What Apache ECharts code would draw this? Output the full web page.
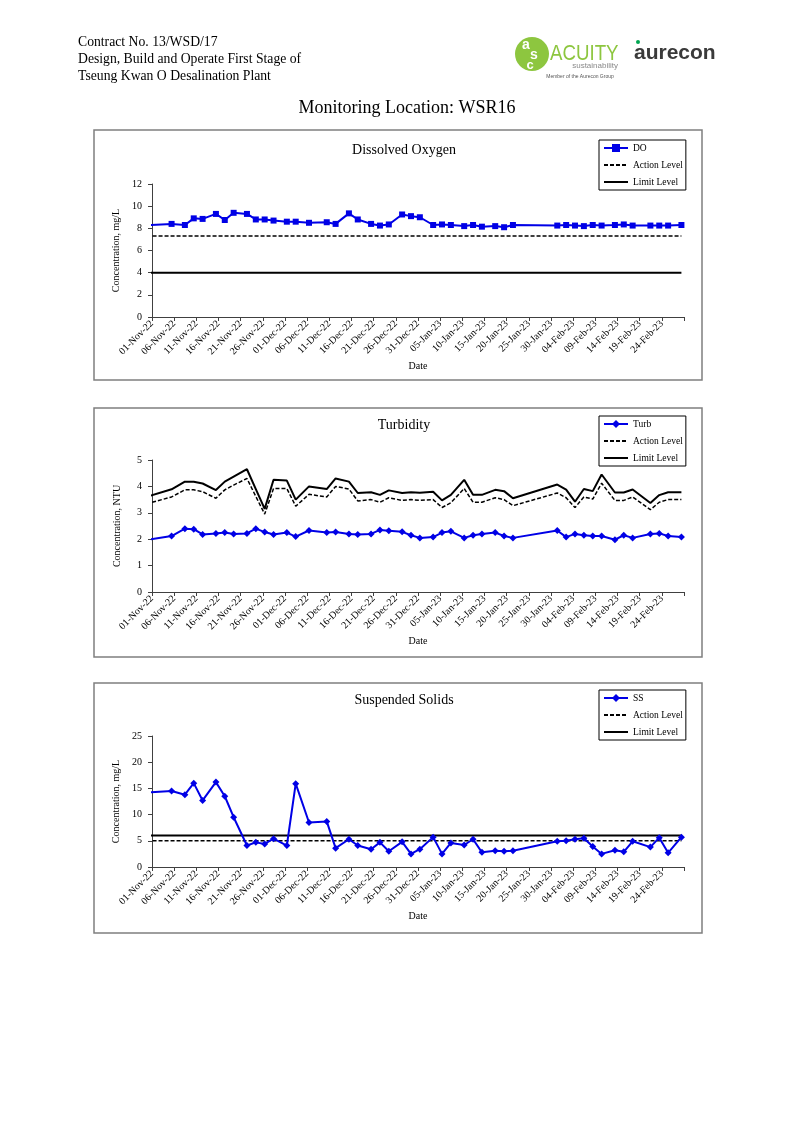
<!DOCTYPE html>
<html>
<head>
<meta charset="utf-8">
<script src="https://cdn.jsdelivr.net/npm/echarts@6/dist/echarts.min.js"></script>
<style>
html,body{margin:0;padding:0;background:#fff;}
#chart{position:absolute;left:0;top:0;width:794px;height:1123px;}
</style>
</head>
<body>
<div id="chart"></div>
<script>
// ---- Data ----
const dates = ['2022-10-29','2022-11-05','2022-11-08','2022-11-10','2022-11-12','2022-11-15','2022-11-17','2022-11-19','2022-11-22','2022-11-24','2022-11-26','2022-11-28',
  '2022-12-01','2022-12-03','2022-12-06','2022-12-10','2022-12-12','2022-12-15','2022-12-17','2022-12-20','2022-12-22','2022-12-24','2022-12-27','2022-12-29','2022-12-31',
  '2023-01-03','2023-01-05','2023-01-07','2023-01-10','2023-01-12','2023-01-14','2023-01-17','2023-01-19','2023-01-21','2023-01-31',
  '2023-02-02','2023-02-04','2023-02-06','2023-02-08','2023-02-10','2023-02-13','2023-02-15','2023-02-17','2023-02-21','2023-02-23','2023-02-25','2023-02-28'];

const doValues = [8.24, 8.4, 8.3, 8.9, 8.85, 9.3, 8.75, 9.4, 9.3, 8.8, 8.8, 8.7,
  8.6, 8.6, 8.5, 8.55, 8.4, 9.35, 8.8, 8.4, 8.25, 8.35, 9.25, 9.1, 9.0,
  8.3, 8.35, 8.3, 8.2, 8.3, 8.15, 8.2, 8.1, 8.3, 8.25,
  8.3, 8.25, 8.2, 8.3, 8.25, 8.3, 8.35, 8.25, 8.25, 8.25, 8.25, 8.3];
const doAction = 7.3;
const doLimit = 4;

const turbValues = [1.93, 2.12, 2.4, 2.38, 2.18, 2.22, 2.25, 2.2, 2.22, 2.4, 2.27, 2.18,
  2.25, 2.1, 2.33, 2.25, 2.27, 2.2, 2.18, 2.2, 2.35, 2.32, 2.28, 2.15, 2.05,
  2.08, 2.25, 2.3, 2.05, 2.15, 2.2, 2.25, 2.12, 2.05, 2.33,
  2.08, 2.2, 2.15, 2.12, 2.12, 1.98, 2.15, 2.05, 2.2, 2.22, 2.12, 2.08];
const turbAction = [3.28, 3.6, 3.87, 3.87, 3.8, 3.55, 3.87, 4.05, 4.3, 3.62, 2.95, 3.92,
  3.92, 3.25, 3.7, 3.6, 4.0, 3.9, 3.45, 3.5, 3.4, 3.57, 3.47, 3.5, 3.47,
  3.5, 3.2, 3.38, 3.92, 3.4, 3.4, 3.57, 3.5, 3.27, 3.75,
  3.57, 3.2, 3.6, 3.52, 4.12, 3.47, 3.47, 3.6, 3.12, 3.4, 3.5, 3.5];
const turbLimit = [3.54, 3.89, 4.18, 4.18, 4.11, 3.86, 4.18, 4.37, 4.65, 3.9, 3.15, 4.25,
  4.22, 3.5, 4.0, 3.9, 4.3, 4.18, 3.75, 3.78, 3.68, 3.85, 3.75, 3.78, 3.76,
  3.8, 3.47, 3.68, 4.25, 3.68, 3.68, 3.87, 3.82, 3.55, 4.07,
  3.88, 3.42, 3.9, 3.82, 4.45, 3.77, 3.77, 3.88, 3.37, 3.67, 3.78, 3.78];

const ssValues = [14.18, 14.5, 13.8, 16.0, 12.7, 16.2, 13.5, 9.5, 4.1, 4.7, 4.4, 5.4,
  4.1, 15.9, 8.5, 8.7, 3.6, 5.3, 4.1, 3.4, 4.7, 3.0, 4.8, 2.5, 3.4,
  5.7, 2.5, 4.6, 4.2, 5.3, 2.8, 3.1, 3.0, 3.1, 4.9,
  5.0, 5.3, 5.5, 3.9, 2.5, 3.2, 2.9, 4.9, 3.8, 5.6, 2.7, 5.7];
const ssAction = 5;
const ssLimit = 6;

const months = ['Jan','Feb','Mar','Apr','May','Jun','Jul','Aug','Sep','Oct','Nov','Dec'];

// ---- Helpers ----
const DAY = 86400000;
const T0 = Date.UTC(2022, 10, 1);
const SAMPLE_HOUR = 10;
function toDay(s){ const p = s.split('-').map(Number); return (Date.UTC(p[0], p[1]-1, p[2], SAMPLE_HOUR) - T0) / DAY; }
const xs = dates.map(toDay);
const pairs = vals => xs.map((x,i) => [x, vals[i]]);
const flat = v => xs.map(x => [x, v]);
function fmtDate(v){
  if (v >= 120) return '';
  const d = new Date(T0 + v*DAY);
  const dd = String(d.getUTCDate()).padStart(2,'0');
  return dd + '-' + months[d.getUTCMonth()] + '-' + String(d.getUTCFullYear()).slice(2);
}

const SERIF = '"Liberation Serif","Times New Roman",serif';
const BLUE = '#0000e6';
const AXIS = '#404040';

const panels = [
  {top:184, height:133, title:'Dissolved Oxygen', titleTop:138, yMax:12, yInt:2, yName:'Concentration, mg/L', legendTop:140,
   main:{name:'DO', data:pairs(doValues), symbol:'rect', size:6}, action:flat(doAction), limit:flat(doLimit)},
  {top:460, height:132, title:'Turbidity', titleTop:413, yMax:5, yInt:1, yName:'Concentration, NTU', legendTop:416,
   main:{name:'Turb', data:pairs(turbValues), symbol:'diamond', size:7}, action:pairs(turbAction), limit:pairs(turbLimit)},
  {top:736, height:131, title:'Suspended Solids', titleTop:688, yMax:25, yInt:5, yName:'Concentration, mg/L', legendTop:690,
   main:{name:'SS', data:pairs(ssValues), symbol:'diamond', size:7}, action:flat(ssAction), limit:flat(ssLimit)}
];

const grid=[], xAxis=[], yAxis=[], series=[], title=[], legend=[];
panels.forEach((p,i) => {
  grid.push({left:152, top:p.top, width:532, height:p.height});
  xAxis.push({type:'value', gridIndex:i, min:0, max:120, interval:5,
    axisLine:{show:true, lineStyle:{color:AXIS, width:1}},
    axisTick:{show:true, length:4, lineStyle:{color:AXIS}},
    splitLine:{show:false},
    axisLabel:{rotate:45, margin:5, fontSize:10, fontFamily:SERIF, color:'#000', formatter:fmtDate, showMaxLabel:true},
    name:'Date', nameLocation:'middle', nameGap:44, nameTextStyle:{fontSize:10, fontFamily:SERIF, color:'#000'}});
  yAxis.push({type:'value', gridIndex:i, min:0, max:p.yMax, interval:p.yInt,
    axisLine:{show:true, lineStyle:{color:AXIS, width:1}},
    axisTick:{show:true, length:4, lineStyle:{color:AXIS}},
    splitLine:{show:false},
    axisLabel:{margin:10, fontSize:10, fontFamily:SERIF, color:'#000'},
    name:p.yName, nameLocation:'middle', nameRotate:90, nameGap:30, nameTextStyle:{fontSize:10, fontFamily:SERIF, color:'#000'}});
  title.push({text:p.title, left:399, top:p.titleTop, textAlign:'center',
    textStyle:{fontSize:14, fontWeight:'normal', fontFamily:SERIF, color:'#000'}});
  series.push({name:p.main.name, type:'line', xAxisIndex:i, yAxisIndex:i, data:p.main.data,
    symbol:p.main.symbol, symbolSize:p.main.size, showAllSymbol:true, clip:true,
    lineStyle:{color:BLUE, width:2}, itemStyle:{color:BLUE}, z:5});
  series.push({name:'Action Level', type:'line', xAxisIndex:i, yAxisIndex:i, data:p.action,
    symbol:'none', clip:true, lineStyle:{color:'#000', width:1.5, type:[4,2]}, itemStyle:{color:'#000'}, z:3});
  series.push({name:'Limit Level', type:'line', xAxisIndex:i, yAxisIndex:i, data:p.limit,
    symbol:'none', clip:true, lineStyle:{color:'#000', width:2}, itemStyle:{color:'#000'}, z:3});
  legend.push({left:599, top:p.legendTop, orient:'vertical',
    data:[{name:p.main.name},
          {name:'Action Level', itemStyle:{opacity:0}},
          {name:'Limit Level', itemStyle:{opacity:0}}],
    itemWidth:24, itemHeight:10, itemGap:7, padding:[3,3,3,4],
    borderColor:'#000', borderWidth:1, backgroundColor:'#fff',
    textStyle:{fontSize:9.5, fontFamily:SERIF, color:'#000'}, selectedMode:false});
});

const boxes = [[94,130,608,250],[94,408,608,249],[94,683,608,250]].map(b => ({
  type:'rect', shape:{x:b[0], y:b[1], width:b[2], height:b[3]},
  style:{fill:'none', stroke:'#7f7f7f', lineWidth:1.5}, z:-1
}));

const header = [
  {type:'text', left:78, top:35, style:{text:'Contract No. 13/WSD/17', font:'13.7px '+SERIF, fill:'#000'}},
  {type:'text', left:78, top:52, style:{text:'Design, Build and Operate First Stage of', font:'13.7px '+SERIF, fill:'#000'}},
  {type:'text', left:78, top:69, style:{text:'Tseung Kwan O Desalination Plant', font:'13.7px '+SERIF, fill:'#000'}},
  {type:'text', x:407, y:108, style:{text:'Monitoring Location: WSR16', font:'18px '+SERIF, fill:'#000', textAlign:'center', textVerticalAlign:'middle'}},
  // ACUITY logo
  {type:'circle', shape:{cx:532, cy:54, r:17}, style:{fill:'#8dc63f'}},
  {type:'text', x:526, y:45, style:{text:'a', font:'bold 14px "Liberation Sans",Arial,sans-serif', fill:'#fff', textAlign:'center', textVerticalAlign:'middle'}},
  {type:'text', x:534, y:55, style:{text:'s', font:'bold 14px "Liberation Sans",Arial,sans-serif', fill:'#fff', textAlign:'center', textVerticalAlign:'middle'}},
  {type:'text', x:530, y:65, style:{text:'c', font:'bold 13px "Liberation Sans",Arial,sans-serif', fill:'#fff', textAlign:'center', textVerticalAlign:'middle'}},
  {type:'text', x:550, y:54, scaleX:0.85, style:{text:'ACUITY', font:'22px "Liberation Sans",Arial,sans-serif', fill:'#8dc63f', textVerticalAlign:'middle'}},
  {type:'text', x:618, y:66, style:{text:'sustainability', font:'8px "Liberation Sans",Arial,sans-serif', fill:'#8a8a8a', textAlign:'right', textVerticalAlign:'middle'}},
  {type:'text', x:580, y:77, style:{text:'Member of the Aurecon Group', font:'5px "Liberation Sans",Arial,sans-serif', fill:'#555', textAlign:'center', textVerticalAlign:'middle'}},
  // aurecon logo
  {type:'text', x:634, y:53, style:{text:'aurecon', font:'bold 21px "Liberation Sans",Arial,sans-serif', fill:'#3a3a3a', textVerticalAlign:'middle'}},
  {type:'circle', shape:{cx:638, cy:42, r:2}, style:{fill:'#00a651'}}
];

const chart = echarts.init(document.getElementById('chart'), null, {renderer:'canvas', width:794, height:1123});
chart.setOption({
  animation:false,
  backgroundColor:'#fff',
  title, grid, xAxis, yAxis, series, legend,
  graphic: boxes.concat(header)
});
</script>
</body>
</html>
